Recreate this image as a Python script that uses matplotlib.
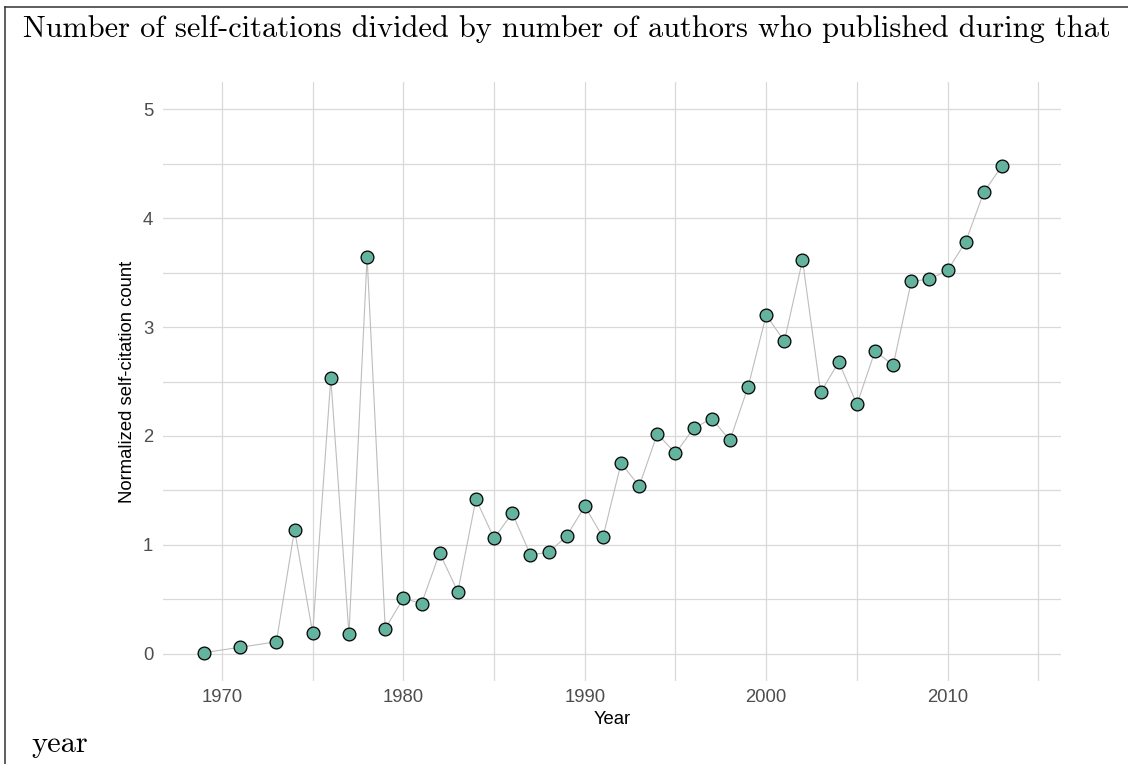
import matplotlib
matplotlib.use('Agg')
import matplotlib.pyplot as plt
from matplotlib.lines import Line2D

# data
years = [1969, 1971, 1973, 1974, 1975, 1976, 1977, 1978, 1979, 1980,
         1981, 1982, 1983, 1984, 1985, 1986, 1987, 1988, 1989, 1990,
         1991, 1992, 1993, 1994, 1995, 1996, 1997, 1998, 1999, 2000,
         2001, 2002, 2003, 2004, 2005, 2006, 2007, 2008, 2009, 2010,
         2011, 2012, 2013]
norm_count = [0.01, 0.06, 0.11, 1.14, 0.19, 2.53, 0.18, 3.645, 0.23, 0.51,
              0.46, 0.925, 0.57, 1.42, 1.06, 1.29, 0.91, 0.93, 1.08, 1.355,
              1.07, 1.75, 1.54, 2.02, 1.84, 2.07, 2.16, 1.96, 2.45, 3.11,
              2.87, 3.615, 2.40, 2.68, 2.29, 2.78, 2.65, 3.42, 3.44, 3.52,
              3.785, 4.24, 4.48]

x_major = [1970, 1980, 1990, 2000, 2010]
x_minor = [1975, 1985, 1995, 2005, 2015]
y_major = [0, 1, 2, 3, 4, 5]
y_minor = [0.5, 1.5, 2.5, 3.5, 4.5]

title_line1 = 'Number of self-citations divided by number of authors who published during that'
title_line2 = 'year'

plt.rcParams['axes.unicode_minus'] = False

fig = plt.figure(figsize=(11.28, 7.64), dpi=100)
ax = fig.add_axes([163/1128, 1 - 681/764, (1061-163)/1128, (681-82)/764])

ax.plot(years, norm_count, color='#bdbdbd', lw=0.8, zorder=2)
ax.plot(years, norm_count, 'o', ms=9.2, mfc='#64b39e', mec='black', mew=0.9,
        zorder=3, linestyle='none')

ax.set_xlim(1966.75, 2016.25)
ax.set_ylim(-0.25, 5.25)
ax.set_xticks(x_major)
ax.set_xticks(x_minor, minor=True)
ax.set_yticks(y_major)
ax.set_yticks(y_minor, minor=True)
ax.grid(True, which='both', color='#d9d9d9', lw=0.9, zorder=0)
ax.set_axisbelow(True)
for s in ax.spines.values():
    s.set_visible(False)
ax.tick_params(which='both', length=0)
ax.tick_params(axis='x', pad=6)
ax.tick_params(axis='y', pad=7)
for lab in ax.get_xticklabels() + ax.get_yticklabels():
    lab.set_fontfamily('Liberation Sans')
    lab.set_fontsize(13.3)
    lab.set_color('#4d4d4d')

ax.set_xlabel('Year', fontfamily='Liberation Sans', fontsize=13.3, labelpad=3)
ax.set_ylabel('Normalized self-citation count', fontfamily='Liberation Sans',
              fontsize=13.3, labelpad=5)

# title, wrapped in two parts
fig.text(23/1128, 1 - 37/764, title_line1, fontfamily='cmr10', fontsize=21.9,
         ha='left', va='baseline')
fig.text(31/1128, 1 - 752/764, title_line2, fontfamily='cmr10', fontsize=21.9,
         ha='left', va='baseline')

# border (top and left only visible)
fig.add_artist(Line2D([5/1128, 1.0], [1 - 6.5/764, 1 - 6.5/764],
                      transform=fig.transFigure, color='#333333', lw=1.1))
fig.add_artist(Line2D([5/1128, 5/1128], [1 - 6.5/764, 0.0],
                      transform=fig.transFigure, color='#333333', lw=1.1))

fig.savefig('out.png', dpi=100)
